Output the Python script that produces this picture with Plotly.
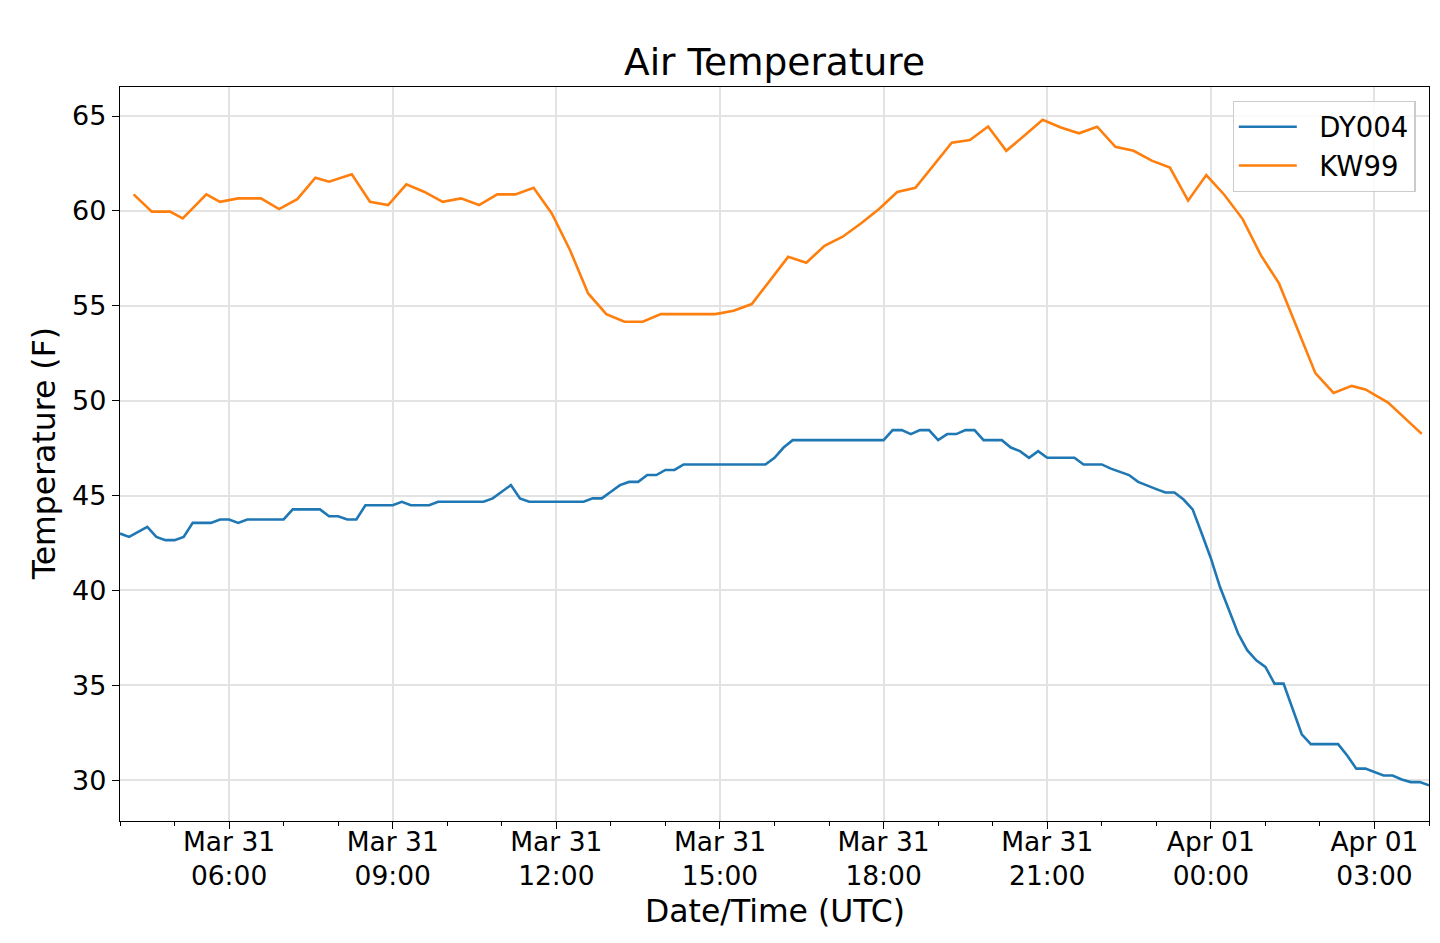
import pandas as pd
import plotly.graph_objects as go

# ---------------- data ----------------
dy004_start = "2019-03-31 04:00"
dy004_step_min = 10
dy004_temp = [
    43.00, 42.82, 43.09, 43.35, 42.82, 42.65, 42.65, 42.82, 43.56, 43.56,
    43.56, 43.74, 43.74, 43.56, 43.74, 43.74, 43.74, 43.74, 43.74, 44.27,
    44.27, 44.27, 44.27, 43.91, 43.91, 43.74, 43.74, 44.49, 44.49, 44.49,
    44.49, 44.67, 44.49, 44.49, 44.49, 44.67, 44.67, 44.67, 44.67, 44.67,
    44.67, 44.85, 45.20, 45.55, 44.85, 44.67, 44.67, 44.67, 44.67, 44.67,
    44.67, 44.67, 44.85, 44.85, 45.20, 45.55, 45.72, 45.72, 46.08, 46.08,
    46.35, 46.35, 46.64, 46.64, 46.64, 46.64, 46.64, 46.64, 46.64, 46.64,
    46.64, 46.64, 46.99, 47.53, 47.92, 47.92, 47.92, 47.92, 47.92, 47.92,
    47.92, 47.92, 47.92, 47.92, 47.92, 48.45, 48.45, 48.24, 48.45, 48.45,
    47.92, 48.24, 48.24, 48.45, 48.45, 47.92, 47.92, 47.92, 47.53, 47.34,
    46.99, 47.34, 46.99, 46.99, 46.99, 46.99, 46.64, 46.64, 46.64, 46.42,
    46.25, 46.08, 45.72, 45.51, 45.34, 45.16, 45.16, 44.79, 44.27, 43.00,
    41.70, 40.19, 38.96, 37.73, 36.85, 36.32, 35.97, 35.09, 35.09, 33.78,
    32.42, 31.90, 31.90, 31.90, 31.90, 31.30, 30.61, 30.61, 30.43, 30.25,
    30.25, 30.04, 29.90, 29.90, 29.73,
]

kw99_time = [
    "2019-03-31 04:15", "2019-03-31 04:35", "2019-03-31 04:55", "2019-03-31 05:09",
    "2019-03-31 05:35", "2019-03-31 05:50", "2019-03-31 06:10", "2019-03-31 06:35",
    "2019-03-31 06:55", "2019-03-31 07:15", "2019-03-31 07:35", "2019-03-31 07:50",
    "2019-03-31 08:15", "2019-03-31 08:35", "2019-03-31 08:55", "2019-03-31 09:15",
    "2019-03-31 09:35", "2019-03-31 09:55", "2019-03-31 10:15", "2019-03-31 10:35",
    "2019-03-31 10:55", "2019-03-31 11:15", "2019-03-31 11:35", "2019-03-31 11:55",
    "2019-03-31 12:15", "2019-03-31 12:35", "2019-03-31 12:55", "2019-03-31 13:15",
    "2019-03-31 13:35", "2019-03-31 13:55", "2019-03-31 14:15", "2019-03-31 14:35",
    "2019-03-31 14:55", "2019-03-31 15:15", "2019-03-31 15:35", "2019-03-31 16:15",
    "2019-03-31 16:35", "2019-03-31 16:55", "2019-03-31 17:15", "2019-03-31 17:35",
    "2019-03-31 17:55", "2019-03-31 18:15", "2019-03-31 18:35", "2019-03-31 19:15",
    "2019-03-31 19:35", "2019-03-31 19:55", "2019-03-31 20:15", "2019-03-31 20:35",
    "2019-03-31 20:55", "2019-03-31 21:15", "2019-03-31 21:35", "2019-03-31 21:55",
    "2019-03-31 22:15", "2019-03-31 22:35", "2019-03-31 22:55", "2019-03-31 23:15",
    "2019-03-31 23:35", "2019-03-31 23:55", "2019-04-01 00:15", "2019-04-01 00:35",
    "2019-04-01 00:55", "2019-04-01 01:15", "2019-04-01 01:55", "2019-04-01 02:15",
    "2019-04-01 02:35", "2019-04-01 02:50", "2019-04-01 03:15", "2019-04-01 03:52",
]
kw99_temp = [
    60.87, 59.96, 59.96, 59.61,
    60.87, 60.48, 60.66, 60.66,
    60.10, 60.62, 61.75, 61.54,
    61.93, 60.48, 60.31, 61.40,
    61.00, 60.48, 60.66, 60.31,
    60.87, 60.87, 61.22, 59.87,
    57.94, 55.65, 54.56, 54.16,
    54.16, 54.56, 54.56, 54.56,
    54.56, 54.74, 55.09, 57.58,
    57.27, 58.16, 58.64, 59.34,
    60.10, 61.00, 61.22, 63.60,
    63.73, 64.45, 63.17, 63.97,
    64.80, 64.40, 64.09, 64.44,
    63.38, 63.17, 62.65, 62.28,
    60.54, 61.89, 60.84, 59.57,
    57.67, 56.18, 51.45, 50.41,
    50.78, 50.59, 49.90, 48.25,
]

series_names = ["DY004", "KW99"]

tick_vals = [
    "2019-03-31 06:00", "2019-03-31 09:00", "2019-03-31 12:00", "2019-03-31 15:00",
    "2019-03-31 18:00", "2019-03-31 21:00", "2019-04-01 00:00", "2019-04-01 03:00",
]
tick_text = [
    "Mar 31<br>06:00", "Mar 31<br>09:00", "Mar 31<br>12:00", "Mar 31<br>15:00",
    "Mar 31<br>18:00", "Mar 31<br>21:00", "Apr 01<br>00:00", "Apr 01<br>03:00",
]
y_ticks = [30, 35, 40, 45, 50, 55, 60, 65]

x_range = ["2019-03-31 04:00", "2019-04-01 04:00"]
y_range = [27.85, 66.53]

dy004_time = pd.date_range(dy004_start, periods=len(dy004_temp),
                           freq=f"{dy004_step_min}min")

# ---------------- figure ----------------
FONT = "DejaVu Sans"
NB = "\u00a0\u00a0"
fig = go.Figure()
fig.add_trace(go.Scatter(x=dy004_time, y=dy004_temp, mode="lines",
                         name=NB + series_names[0], legendgroup="a",
                         line=dict(color="#1f77b4", width=2.6)))
fig.add_trace(go.Scatter(x=pd.to_datetime(kw99_time), y=kw99_temp, mode="lines",
                         name=NB + series_names[1], legendgroup="b",
                         line=dict(color="#ff7f0e", width=2.6)))

W, H = 1424, 927
L, R, T, B = 112, 2.5, 79, 114.3
pw = W - L - R
ph = H - T - B


def px_x(px):  # page pixel x -> paper
    return (px - 8 - L) / pw


def px_y(py):  # page pixel y -> paper
    return (H - B - (py - 8)) / ph


fig.update_layout(
    width=W, height=H,
    margin=dict(l=L, r=R, t=T, b=B, pad=0),
    paper_bgcolor="white", plot_bgcolor="white",
    font=dict(family=FONT, size=27, color="black"),
    showlegend=True,
    legend=dict(
        x=px_x(1416), y=px_y(101), xanchor="right", yanchor="top",
        bgcolor="rgba(255,255,255,0.8)", bordercolor="#cccccc", borderwidth=1.3,
        font=dict(family=FONT, size=27.5, color="black"),
        tracegroupgap=0, itemwidth=58,
    ),
    xaxis=dict(
        type="date", range=x_range,
        tickmode="array", tickvals=tick_vals, ticktext=tick_text,
        ticks="outside", ticklen=7, tickwidth=1.3, tickcolor="black",
        ticklabelstandoff=-10,
        showline=True, linecolor="black", linewidth=1.3, mirror=True,
        showgrid=True, gridcolor="#e3e3e3", gridwidth=1.5,
        zeroline=False,
        tickfont=dict(family=FONT, size=26.5, color="black"),
        minor=dict(tickmode="linear", tick0="2019-03-31 04:00", dtick=3600000,
                   ticks="outside", ticklen=4, tickwidth=1.1, tickcolor="black",
                   showgrid=False),
    ),
    yaxis=dict(
        range=y_range, tickmode="array", tickvals=y_ticks,
        ticks="outside", ticklen=7, tickwidth=1.3, tickcolor="black",
        showline=True, linecolor="black", linewidth=1.3, mirror=True,
        showgrid=True, gridcolor="#e3e3e3", gridwidth=1.5,
        zeroline=False,
        tickfont=dict(family=FONT, size=27, color="black"),
    ),
    annotations=[
        dict(text="Air Temperature", xref="paper", yref="paper",
             x=0.5, y=px_y(62), xanchor="center", yanchor="middle",
             showarrow=False, font=dict(family=FONT, size=37.5, color="black")),
        dict(text="Date/Time (UTC)", xref="paper", yref="paper",
             x=0.5, y=px_y(911), xanchor="center", yanchor="middle",
             showarrow=False, font=dict(family=FONT, size=31.5, color="black")),
        dict(text="Temperature (F)", xref="paper", yref="paper",
             x=px_x(44), y=px_y(454), xanchor="center", yanchor="middle",
             textangle=-90, showarrow=False,
             font=dict(family=FONT, size=31.5, color="black")),
    ],
    shapes=[
        dict(type="line", xref="paper", yref="paper",
             x0=px_x(18), x1=px_x(490), y0=px_y(6), y1=px_y(6),
             line=dict(color="#ececec", width=1.5)),
    ],
)

fig.write_html("out.html")
